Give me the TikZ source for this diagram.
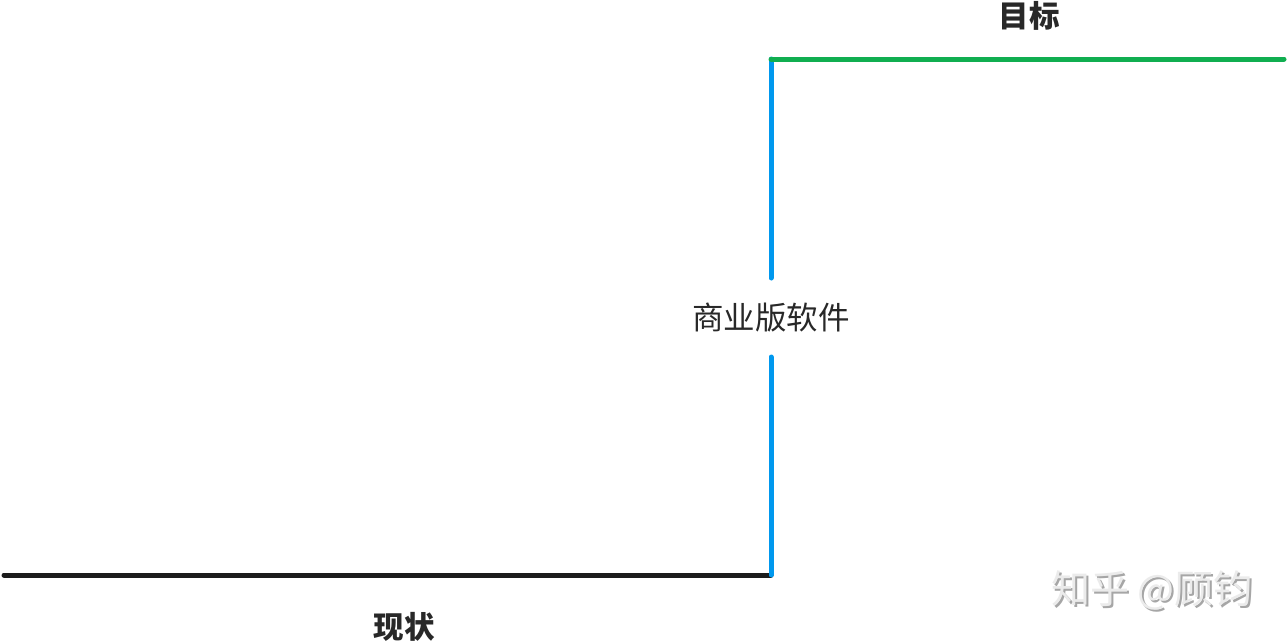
\documentclass[tikz,border=0pt]{standalone}
\usepackage{fontspec}
\newfontfamily\cjk{Noto Sans CJK SC}
\definecolor{lineblack}{RGB}{28,28,28}
\definecolor{lineblue}{RGB}{0,152,238}
\definecolor{linegreen}{RGB}{16,174,80}
\definecolor{txt}{RGB}{40,40,40}
\begin{document}
\begin{tikzpicture}[x=1pt,y=-1pt,
  seg/.style={line width=5pt,line cap=round},
  label/.style={font=\cjk\fontsize{31.5}{32}\selectfont,text=txt,inner sep=0pt},
  boldlabel/.style={label,font=\cjk\bfseries\fontsize{30.5}{31}\selectfont}]
\useasboundingbox (0,0) rectangle (1287,643);
\coordinate (start) at (4,575);
\coordinate (corner) at (771,575);
\coordinate (gaplow) at (771,357);
\coordinate (gaphigh) at (771,278);
\coordinate (top) at (771,59);
\coordinate (end) at (1284,59);
\draw[seg,lineblack] (start) -- (corner);
\draw[seg,lineblue] (corner) -- (gaplow);
\draw[seg,lineblue] (gaphigh) -- (top);
\draw[seg,linegreen] (top) -- (end);
\node[label] (soft) at (771,318) {商业版软件};
\node[boldlabel] (goal) at (1029,16) {目标};
\node[boldlabel] (now) at (404,627) {现状};
\node[label,font=\cjk\fontsize{39}{40}\selectfont,text=black!35] (wmshadow) at (1154,592) {知乎 @顾钧};
\node[label,font=\cjk\fontsize{39}{40}\selectfont,text=black!8] (wm) at (1152,590) {知乎 @顾钧};
\end{tikzpicture}
\end{document}
